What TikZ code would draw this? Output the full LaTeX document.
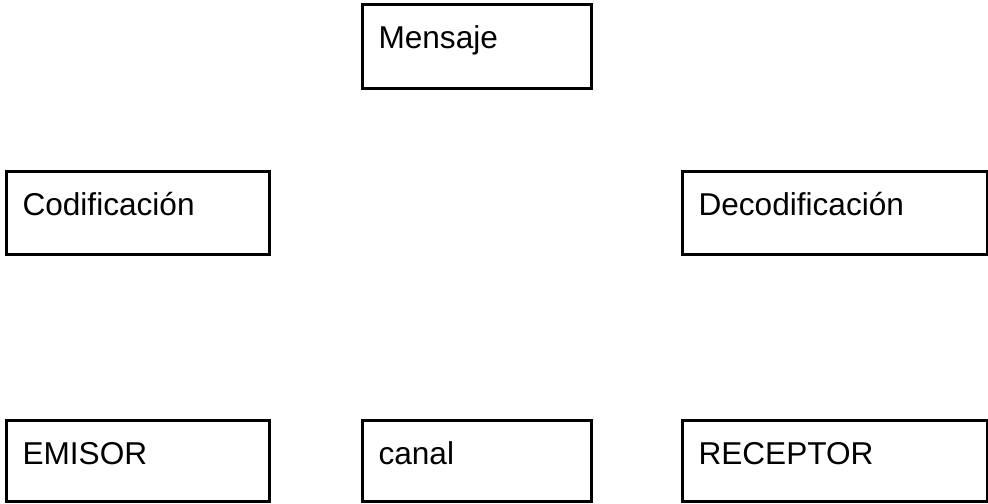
\documentclass[tikz,border=0pt]{standalone}
\usepackage{fontspec}
\setmainfont{Liberation Sans}

\begin{document}
\begin{tikzpicture}[x=0.5pt, y=-0.5pt,
  caja/.style={draw, line width=1.5pt, anchor=north west, inner xsep=8pt, inner ysep=0pt,
    align=left, text height=22pt, font=\fontsize{15.8}{19}\selectfont}]
  \useasboundingbox (0,0) rectangle (988,503);
  \node[caja, text width=98.5pt, text depth=20pt] (mensaje) at (361,3) {Mensaje};
  \node[caja, text width=115.5pt, text depth=19.5pt] (codif) at (5,170) {Codificación};
  \node[caja, text width=136.5pt, text depth=19.5pt] (decodif) at (681,170) {Decodificación};
  \node[caja, text width=115.5pt, text depth=18.5pt] (emisor) at (5,419) {EMISOR};
  \node[caja, text width=98.5pt, text depth=18.5pt] (canal) at (361,419) {canal};
  \node[caja, text width=136.5pt, text depth=18.5pt] (receptor) at (681,419) {RECEPTOR};
\end{tikzpicture}
\end{document}
